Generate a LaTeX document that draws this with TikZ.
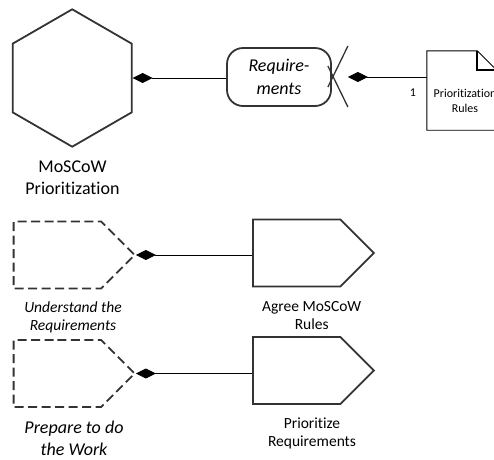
\documentclass[tikz,border=0pt]{standalone}
\usepackage{fontspec}
\setmainfont{Carlito}[Ligatures=NoCommon]
\usetikzlibrary{shapes.geometric,shapes.symbols,arrows.meta}
\begin{document}
\begin{tikzpicture}[x=1pt,y=-1pt,
  outline/.style={draw=black!80, line width=1.8pt},
  dashline/.style={outline, dash pattern=on 9pt off 4.5pt},
  conn/.style={draw=black, line width=0.9pt},
  xline/.style={draw=black!80, line width=1.3pt},
  diamondend/.style={{Diamond[length=20pt,width=10pt]}-},
  stepshape/.style={signal, signal to=east, signal pointer angle=90,
    minimum width=121pt, minimum height=67pt, inner sep=0pt, anchor=west},
  biglbl/.style={align=center, inner sep=0pt, font=\fontsize{18}{22.5}\selectfont},
  midlbl/.style={align=center, inner sep=0pt, font=\fontsize{15.5}{18.5}\selectfont},
  smalllbl/.style={align=center, inner sep=0pt, font=\fontsize{12}{15.5}\selectfont},
]
\useasboundingbox (0,0) rectangle (494,459);

% composite activity and its work product
\node[outline, regular polygon, regular polygon sides=6, shape border rotate=90,
  minimum size=137.4pt, inner sep=0pt] (hex) at (72.2,78) {};
\node[biglbl] (hexlbl) at (72.5,177.5) {MoSCoW\\Prioritization};

\node[outline, rounded corners=16pt, minimum width=104pt, minimum height=58pt,
  inner sep=0pt, align=center, font=\fontsize{18}{22.5}\selectfont\itshape]
  (req) at (279,77) {Require-\\ments};
\draw[conn, diamondend] (hex.east) -- (hex.east -| req.west);

% crossed end of the requirements box
\draw[xline] ([shift={(16,-31)}]req.east) -- ([shift={(-4,10)}]req.east);
\draw[xline] ([shift={(16,30)}]req.east) -- ([shift={(-4,-11)}]req.east);
\coordinate (reqend) at ([xshift=16pt]req.east);

% guidance document with folded corner
\node[minimum width=69pt, minimum height=79pt, inner sep=0pt] (doc) at (461.5,90.5) {};
\draw[black, line width=0.9pt] (doc.south west) -- (doc.north west)
  -- ([xshift=-19pt]doc.north east) -- ([yshift=-19pt]doc.north east)
  -- (doc.south east) -- cycle;
\draw[black, line width=1.8pt] ([xshift=-19pt]doc.north east)
  -- ([xshift=-19pt,yshift=-19pt]doc.north east) -- ([yshift=-19pt]doc.north east);
\node[smalllbl] (doclbl) at (465,101) {Prioritization\\Rules};
\draw[conn, diamondend] (reqend) -- (reqend -| doc.west);
\node[smalllbl] (mult) at (413,92.2) {1};

% first pair of steps
\node[dashline, stepshape] (und) at (12.7,255) {};
\node[midlbl, font=\fontsize{15.5}{18.5}\selectfont\itshape] (undlbl) at (73,317.5) {Understand the\\Requirements};
\node[outline, stepshape] (agree) at (252,253) {};
\node[midlbl] (agreelbl) at (311.7,315.5) {Agree MoSCoW\\Rules};
\draw[conn, diamondend] (und.east) -- (und.east -| agree.west);

% second pair of steps
\node[dashline, stepshape] (prep) at (12.7,373.5) {};
\node[biglbl, font=\fontsize{18}{22.5}\selectfont\itshape] (preplbl) at (74,438.5) {Prepare to do\\the Work};
\node[outline, stepshape] (prio) at (252,370.5) {};
\node[midlbl] (priolbl) at (312,433.5) {Prioritize\\Requirements};
\draw[conn, diamondend] (prep.east) -- (prep.east -| prio.west);
\end{tikzpicture}
\end{document}
